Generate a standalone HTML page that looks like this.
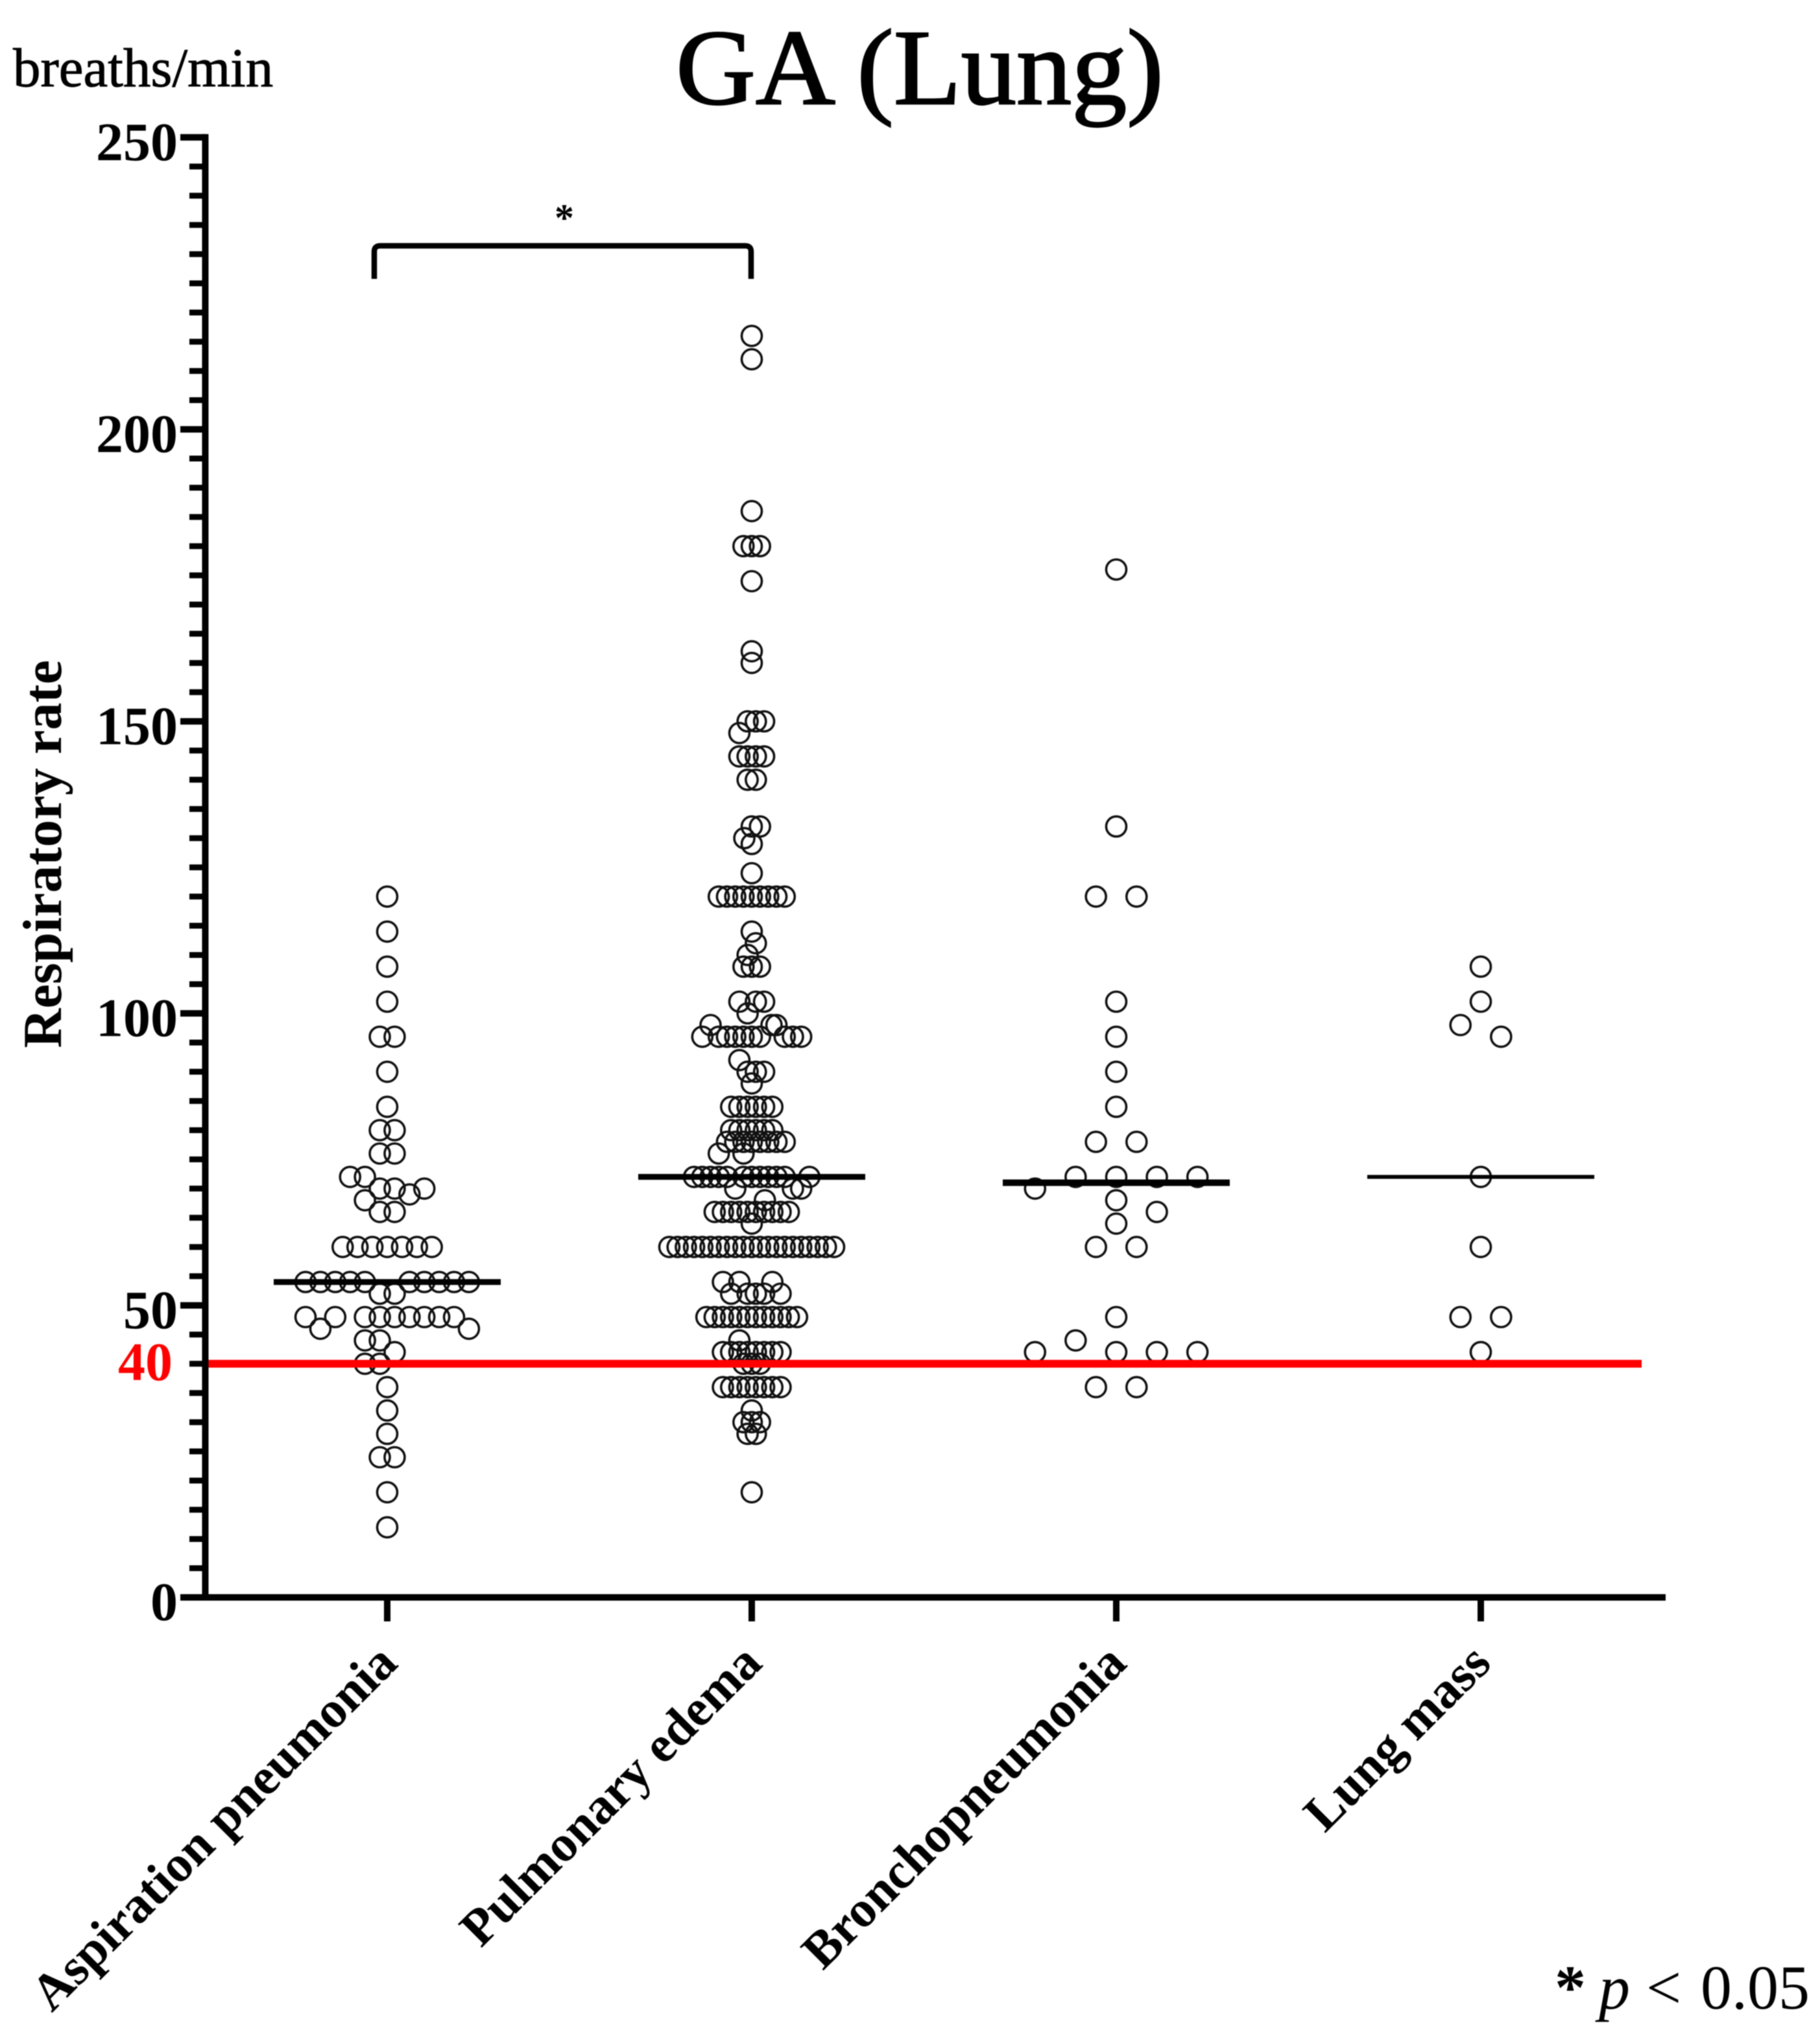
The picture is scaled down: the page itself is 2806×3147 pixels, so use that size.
<!DOCTYPE html>
<html lang="en">
<head>
<meta charset="utf-8">
<title>GA (Lung) respiratory rate</title>
<style>
html,body{margin:0;padding:0;background:#fff;}
svg{display:block;filter:blur(0.8px);}
text{font-family:"Liberation Serif",serif;fill:#000;}
.bold{font-weight:bold;}
</style>
</head>
<body>
<svg id="chart" xmlns="http://www.w3.org/2000/svg" width="2806" height="3147" viewBox="0 0 2806 3147">
<rect x="0" y="0" width="2806" height="3147" fill="#fff"/>
<text x="1418" y="160" font-size="166" text-anchor="middle" textLength="752" lengthAdjust="spacingAndGlyphs" stroke="#000" stroke-width="2.5">GA (Lung)</text>
<text x="20" y="133" font-size="85" stroke="#000" stroke-width="1">breaths/min</text>
<text class="bold" transform="translate(94,1616) rotate(-90)" font-size="84.5">Respiratory rate</text>
<path d="M577 430 L577 388 Q577 379 586 379 L1149 379 Q1158 379 1158 388 L1158 430" fill="none" stroke="#000" stroke-width="8.5"/>
<text class="bold" x="870" y="356" font-size="60" text-anchor="middle">*</text>
<text x="2397" y="3097" font-size="96"><tspan font-weight="bold">*</tspan><tspan x="2465" font-style="italic">p</tspan><tspan x="2538">&lt;</tspan><tspan x="2622">0.05</tspan></text>
<g id="marks"></g>
</svg>
<script>
const categories = ["Aspiration pneumonia", "Pulmonary edema", "Bronchopneumonia", "Lung mass"];
const yTickLabels = [0, 50, 100, 150, 200, 250];
const yMinorTicks = [5,10,15,20,25,30,35,40,45,55,60,65,70,75,80,85,90,95,105,110,115,120,125,130,135,140,145,155,160,165,170,175,180,185,190,195,205,210,215,220,225,230,235,240,245];
const thresholdValue = [40];
const medians = [54, 72, 71, 72];

// Respiratory-rate readings per group; *Swarm holds each point's unit-less swarm column.
const aspirationValues = [120,114,108,102,96,96,90,84,80,80,76,76,72,72,70,70,70,69,68,66,66,
  60,60,60,60,60,60,60,
  54,54,54,54,54,54,54,54,54,54,52,52,
  48,48,48,48,48,48,48,48,48,46,46,44,44,42,40,40,36,32,28,24,24,18,12];
const aspirationSwarm = [0,0,0,0,-1,1,0,0,-1,1,-1,1,-5,-3,-1,1,5,3,-3,-1,1,
  -6,-4,-2,0,2,4,6,
  -11,-9,-7,-5,-3,3,5,7,9,11,-1,1,
  -11,-7,-3,-1,1,3,5,7,9,-9,11,-3,-1,1,-3,-1,0,0,0,-1,1,0,0];

const pulmonaryValues = [216,212,186,180,180,180,174,162,160,
  150,150,150,148,144,144,144,144,140,140,132,132,130,129,124,
  120,120,120,120,120,120,120,120,120,114,112,110,108,108,108,102,102,102,100,
  98,98,98,96,96,96,96,96,96,96,96,96,96,92,90,90,90,88,
  84,84,84,84,84,84,80,80,80,80,80,80,78,78,78,78,78,78,78,78,76,76,
  72,72,72,72,72,72,72,72,72,72,72,72,70,70,70,68,
  66,66,66,66,66,66,66,66,66,66,64,
  60,60,60,60,60,60,60,60,60,60,60,60,60,60,60,60,60,60,60,60,60,
  54,54,54,52,52,52,52,52,
  48,48,48,48,48,48,48,48,48,48,48,48,44,
  42,42,42,42,42,42,42,42,40,40,40,
  36,36,36,36,36,36,36,36,32,30,30,30,28,28,18];
const pulmonarySwarm = [0,0,0,-1,0,1,0,0,0,
  -0.5,0.5,1.5,-1.5,-1.5,-0.5,0.5,1.5,-0.5,0.5,0,1,-0.9,0,0,
  -4,-3,-2,-1,0,1,2,3,4,0,0.5,-0.5,-1,0,1,-1.5,0.5,1.5,-0.5,
  -5,2.4,3,-6,-4,-3,-2,-1,0,1,4,5,6,-1.5,-0.5,0.5,1.5,0,
  -2.5,-1.5,-0.5,0.5,1.5,2.5,-2.5,-1.5,-0.5,0.5,1.5,2.5,-3,-2,-1,0,1,2,3,4,-4,-1,
  -7,-6,-5,-4,-3,-1,0,1,2,3,4,7,-2,5,6,1.6,
  -4.5,-3.5,-2.5,-1.5,-0.5,0.5,1.5,2.5,3.5,4.5,0,
  -10,-9,-8,-7,-6,-5,-4,-3,-2,-1,0,1,2,3,4,5,6,7,8,9,10,
  -3.5,-1.5,2.5,-2.5,-0.5,0.5,1.5,3.5,
  -5.5,-4.5,-3.5,-2.5,-1.5,-0.5,0.5,1.5,2.5,3.5,4.5,5.5,-1.5,
  -3.5,-2.5,-1.5,-0.5,0.5,1.5,2.5,3.5,-1,0,1,
  -3.5,-2.5,-1.5,-0.5,0.5,1.5,2.5,3.5,0,-1,0,1,-0.5,0.5,0];

const bronchoValues = [176,132,120,120,102,96,90,84,78,78,72,72,72,72,70,68,66,64,60,60,48,44,42,42,42,42,36,36];
const bronchoSwarm = [0,0,-1,1,0,0,0,0,-1,1,-2,0,2,4,-4,0,2,0,-1,1,0,-2,-4,0,2,4,-1,1];

const lungMassValues = [108,102,98,96,72,60,48,48,42];
const lungMassSwarm = [0,0,-1,1,0,0,-1,1,0];

const groupValues = [aspirationValues, pulmonaryValues, bronchoValues, lungMassValues];
const groupSwarm = [aspirationSwarm, pulmonarySwarm, bronchoSwarm, lungMassSwarm];
const groupKeys = ["aspiration", "pulmonary", "broncho", "lung-mass"];
const swarmStep = [11.45, 12.7, 31.3, 31.3];
const medianWidth = [9, 9, 10, 6];

const NS = "http://www.w3.org/2000/svg";
const plot = document.getElementById("marks");
const AXIS_X = 316.5, AXIS_Y0 = 2463, UNIT = 9.005, FIRST_X = 597, GROUP_GAP = 562;
function yScale(v) { return AXIS_Y0 - v * UNIT; }
function xScale(i) { return FIRST_X + i * GROUP_GAP; }
function make(tag, attrs, text) {
  const el = document.createElementNS(NS, tag);
  for (const k in attrs) el.setAttribute(k, attrs[k]);
  if (text !== undefined) el.textContent = text;
  plot.appendChild(el);
  return el;
}

// points
groupValues.forEach(function (values, g) {
  values.forEach(function (v, i) {
    const c = make("circle", {cx: xScale(g) + groupSwarm[g][i] * swarmStep[g], cy: yScale(v), r: 15.5, fill: "none", stroke: "#111", "stroke-width": 3.6});
    
    
  });
});

// median lines
medians.forEach(function (m, g) {
  const l = make("line", {x1: xScale(g) - 175, x2: xScale(g) + 175, y1: yScale(m), y2: yScale(m), stroke: "#000", "stroke-width": medianWidth[g]});
  
  
});

// threshold line
const redLine = make("line", {x1: AXIS_X, x2: 2531, y1: yScale(thresholdValue[0]), y2: yScale(thresholdValue[0]), stroke: "#f00", "stroke-width": 12});


const redLabel = make("text", {x: 266, y: yScale(thresholdValue[0]) + 25, "font-size": 84, "text-anchor": "end", "font-weight": "bold", style: "fill:#f00"}, String(thresholdValue[0]));



// axes
const yAxis = make("line", {x1: AXIS_X, x2: AXIS_X, y1: yScale(250) - 5, y2: AXIS_Y0 + 5, stroke: "#000", "stroke-width": 10});


const xAxis = make("line", {x1: AXIS_X - 5, x2: 2568, y1: AXIS_Y0, y2: AXIS_Y0, stroke: "#000", "stroke-width": 10});



yMinorTicks.forEach(function (v) {
  const t = make("line", {x1: 292, x2: AXIS_X, y1: yScale(v), y2: yScale(v), stroke: "#000", "stroke-width": 9});
  
  
});
yTickLabels.forEach(function (v) {
  const t = make("line", {x1: 278, x2: AXIS_X, y1: yScale(v), y2: yScale(v), stroke: "#000", "stroke-width": 10});
  
  
  const lbl = make("text", {x: 274, y: yScale(v) + 35, "font-size": 84, "text-anchor": "end", "font-weight": "bold"}, String(v));
  
  
});
categories.forEach(function (name, g) {
  const t = make("line", {x1: xScale(g), x2: xScale(g), y1: AXIS_Y0, y2: 2500, stroke: "#000", "stroke-width": 10});
  
  
  const ex = xScale(g) + 19, ey = 2568;
  const lbl = make("text", {transform: "translate(" + ex + "," + ey + ") rotate(-45)", "font-size": 79.1, "text-anchor": "end", "font-weight": "bold"}, name);
  
  
});
</script>
</body>
</html>
